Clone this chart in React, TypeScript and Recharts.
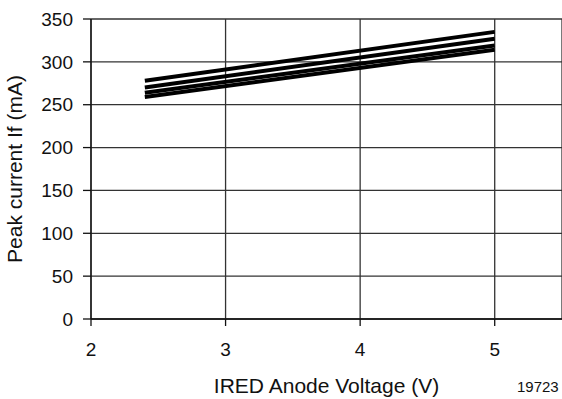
import { LineChart, Line, XAxis, YAxis, CartesianGrid, Label } from "recharts";

// x positions (V) where each curve starts and ends
const voltages = [2.4, 5.0];
// four peak-current curves (mA), top to bottom
const curveA = [278, 335];
const curveB = [270, 327];
const curveC = [264, 319];
const curveD = [259, 314];

const xTicks = [2, 3, 4, 5];
const yTicks = [0, 50, 100, 150, 200, 250, 300, 350];

const data = voltages.map((v, i) => ({
  v,
  a: curveA[i],
  b: curveB[i],
  c: curveC[i],
  d: curveD[i],
}));

const font = "'Liberation Sans', Arial, Helvetica, sans-serif";

export default function App() {
  return (
    <div style={{ position: "absolute", left: 0, top: 0, width: 562, height: 399, background: "#fff", fontFamily: font }}>
      <LineChart width={562} height={399} data={data} margin={{ top: 19, right: 0, bottom: 0, left: 0 }}>
        <CartesianGrid stroke="#333" strokeWidth={1.3} />
        <XAxis
          dataKey="v"
          type="number"
          domain={[2, 5.5]}
          ticks={xTicks}
          height={80}
          tickSize={7}
          tickMargin={17}
          axisLine={{ stroke: "#111", strokeWidth: 1.3 }}
          tickLine={{ stroke: "#111", strokeWidth: 1.3 }}
          tick={{ fill: "#111", fontSize: 19, fontFamily: font }}
        >
          <Label value="IRED Anode Voltage (V)" position="insideBottom" offset={6} style={{ fill: "#111", fontSize: 21, fontFamily: font }} />
        </XAxis>
        <YAxis
          type="number"
          domain={[0, 350]}
          ticks={yTicks}
          width={91}
          tickSize={8}
          tickMargin={10}
          axisLine={{ stroke: "#111", strokeWidth: 1.3 }}
          tickLine={{ stroke: "#111", strokeWidth: 1.3 }}
          tick={{ fill: "#111", fontSize: 19, fontFamily: font }}
        >
          <Label value="Peak current If (mA)" angle={-90} position="insideLeft" offset={15} style={{ textAnchor: "middle", fill: "#111", fontSize: 21, fontFamily: font }} />
        </YAxis>
        <Line dataKey="a" stroke="#000" strokeWidth={4} dot={false} isAnimationActive={false} />
        <Line dataKey="b" stroke="#000" strokeWidth={4} dot={false} isAnimationActive={false} />
        <Line dataKey="c" stroke="#000" strokeWidth={4} dot={false} isAnimationActive={false} />
        <Line dataKey="d" stroke="#000" strokeWidth={4} dot={false} isAnimationActive={false} />
      </LineChart>
      <div style={{ position: "absolute", left: 517, top: 379, fontSize: 15, lineHeight: 1, color: "#111" }}>19723</div>
    </div>
  );
}
